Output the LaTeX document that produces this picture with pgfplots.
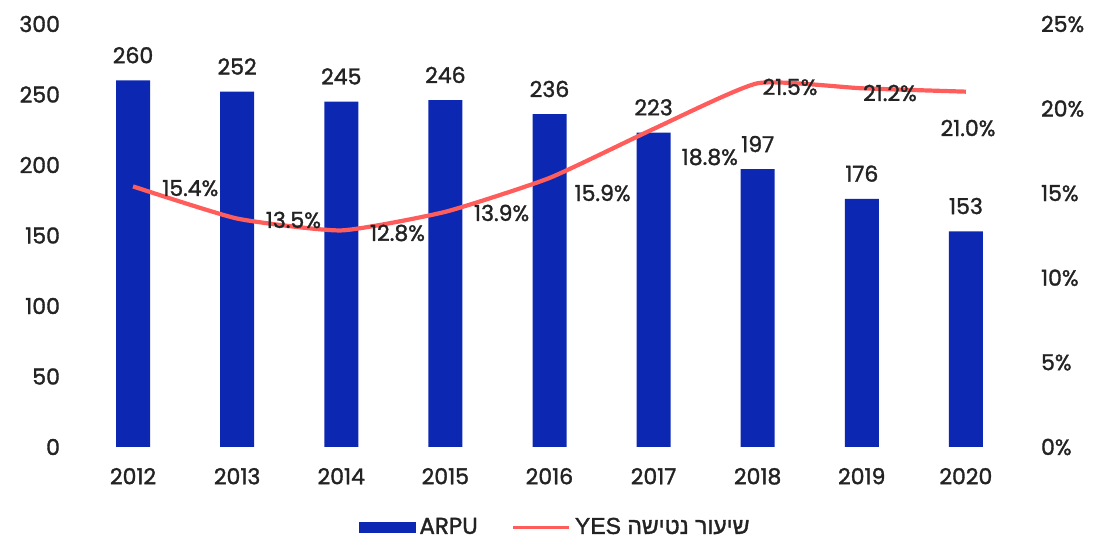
\documentclass[border=0pt]{standalone}
\usepackage{pgfplots}
\pgfplotsset{compat=1.18}
\usepackage{fontspec}
\setmainfont{Poppins}[FakeBold=1.5]
\newfontfamily\hebfont[Script=Hebrew,FakeBold=1.5]{Liberation Sans}
\TeXXeTstate=1
\definecolor{barblue}{RGB}{12,40,178}
\definecolor{linered}{RGB}{255,92,92}
\definecolor{txt}{RGB}{35,35,35}

\pgfplotstableread{
year arpu churn
2012 260 15.4
2013 252 13.5
2014 245 12.8
2015 246 13.9
2016 236 15.9
2017 223 18.8
2018 197 21.5
2019 176 21.2
2020 153 21.0
}\datatable

\begin{document}
\begin{tikzpicture}[font=\fontsize{11}{13}\selectfont\color{txt}]
\pgfplotsset{every axis/.append style={
  scale only axis, width=468.5pt, height=211.5pt,
  xmin=2011.5, xmax=2020.5,
  axis line style={draw=none}, major tick length=0pt,
  /pgf/number format/assume math mode=true,
  at={(0,0)}, anchor=south west,
  tick label style={font=\fontsize{11}{13}\selectfont\color{txt}},
}}
\begin{axis}[
  ymin=0, ymax=300, ytick={0,50,...,300},
  xtick={2012,...,2020},
  xticklabels={2012,2013,2014,2015,2016,2017,2018,2019,2020},
  yticklabel style={xshift=-7pt},
  xticklabel style={yshift=-7pt},
]
\addplot[ybar, bar width=17pt, fill=barblue, draw=none,
  nodes near coords,
  every node near coord/.append style={yshift=5pt, font=\fontsize{11}{13}\selectfont\color{txt}}]
  table[x=year, y=arpu] {\datatable};
\end{axis}
\begin{axis}[
  ymin=0, ymax=25, ytick={0,5,...,25},
  xtick=\empty,
  axis y line*=right,
  yticklabel={\pgfmathprintnumber{\tick}\%},
  yticklabel style={xshift=8pt},
  legend style={at={(0.507,-0.19)}, anchor=center, draw=none, fill=none,
    legend columns=2, font=\fontsize{11.5}{13}\selectfont\color{txt},
    /tikz/every even column/.append style={column sep=15pt}},
]
\addlegendimage{legend image code/.code={\fill[barblue] (0pt,-2.5pt) rectangle (28pt,2.5pt);}}
\addlegendentry{ARPU}
\addplot[linered, line width=2.1pt, smooth, tension=0.3, mark=none,
  legend image code/.code={\draw[linered, line width=1.6pt] (0pt,0pt) -- (28pt,0pt);}]
  table[x=year, y=churn] {\datatable};
\addlegendentry{{\hebfont\beginR שיעור נטישה \beginL YES\endL\endR}}
\node at (axis cs:2012.55,15.3) {15.4\%};
\node at (axis cs:2013.54,13.42) {13.5\%};
\node at (axis cs:2014.54,12.65) {12.8\%};
\node at (axis cs:2015.54,13.83) {13.9\%};
\node at (axis cs:2016.51,15.01) {15.9\%};
\node at (axis cs:2017.54,17.14) {18.8\%};
\node at (axis cs:2018.31,21.28) {21.5\%};
\node at (axis cs:2019.27,20.92) {21.2\%};
\node at (axis cs:2020.02,18.85) {21.0\%};
\end{axis}
\pgfresetboundingbox
\path (-40.5pt,-51.5pt) rectangle (507pt,223.5pt);
\end{tikzpicture}
\end{document}
